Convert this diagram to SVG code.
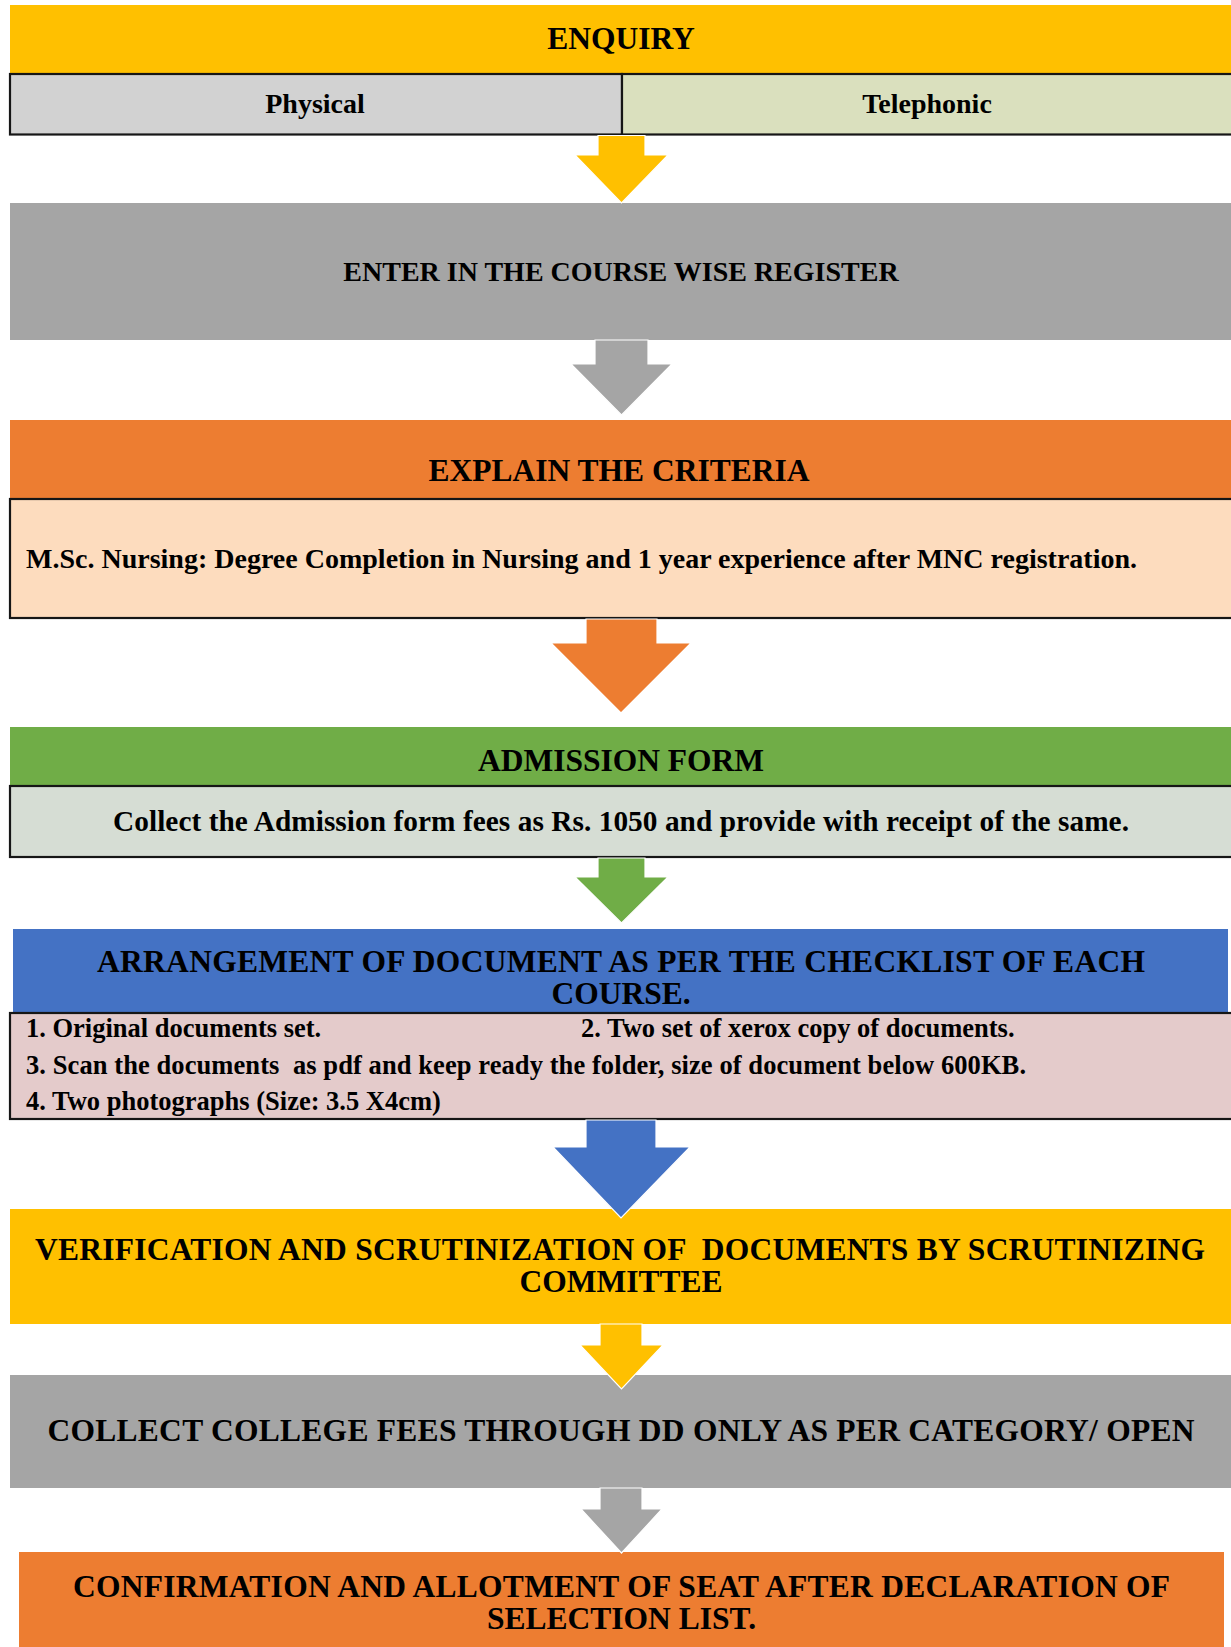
<svg xmlns="http://www.w3.org/2000/svg" width="1231" height="1647" viewBox="0 0 1231 1647">
<style>
text { font-family: "Liberation Serif", "Times New Roman", serif; font-weight: bold; fill: #000; }
.h { font-size: 31.5px; text-anchor: middle; }
.m { font-size: 28px; }
.c { text-anchor: middle; }
.s { font-size: 26.5px; }
.sub { stroke: #161616; stroke-width: 2.2; }
.arr { stroke: #ffffff; stroke-width: 1.2; stroke-linejoin: miter; }
.yellow { fill: #FFC000; }
.gray { fill: #A5A5A5; }
.orange { fill: #ED7D31; }
.green { fill: #70AD47; }
.blue { fill: #4472C4; }
</style>
<rect width="1231" height="1647" fill="#ffffff"/>

<g id="enquiry">
  <rect class="yellow" x="10" y="5" width="1225" height="69"/>
  <text class="h" x="621" y="49">ENQUIRY</text>
</g>
<g id="physical">
  <rect class="sub" x="10" y="74" width="612" height="60.5" fill="#D2D2D2"/>
  <text class="m c" x="315" y="113">Physical</text>
</g>
<g id="telephonic">
  <rect class="sub" x="622" y="74" width="615" height="60.5" fill="#DAE0BE"/>
  <text class="m c" x="927" y="113">Telephonic</text>
</g>

<g id="register">
  <rect class="gray" x="10" y="203" width="1225" height="137"/>
  <text class="m c" x="621" y="281">ENTER IN THE COURSE WISE REGISTER</text>
</g>

<g id="criteria">
  <rect class="orange" x="10" y="420" width="1225" height="79"/>
  <text class="h" x="619" y="481">EXPLAIN THE CRITERIA</text>
  <rect class="sub" x="10" y="499" width="1227" height="119" fill="#FDDCBE"/>
  <text class="m" x="26" y="568" textLength="1111">M.Sc. Nursing: Degree Completion in Nursing and 1 year experience after MNC registration.</text>
</g>

<g id="admission">
  <rect class="green" x="10" y="727" width="1225" height="59"/>
  <text class="h" x="621" y="771">ADMISSION FORM</text>
  <rect class="sub" x="10" y="786" width="1227" height="71" fill="#D6DDD4"/>
  <text class="c" style="font-size:29.3px" x="621" y="831" textLength="1016">Collect the Admission form fees as Rs. 1050 and provide with receipt of the same.</text>
</g>

<g id="documents">
  <rect class="blue" x="13" y="929" width="1215" height="84"/>
  <text class="h" x="621" y="972" textLength="1048">ARRANGEMENT OF DOCUMENT AS PER THE CHECKLIST OF EACH</text>
  <text class="h" x="621" y="1004">COURSE.</text>
  <rect class="sub" x="10" y="1013" width="1227" height="106" fill="#E4CBCB"/>
  <text class="s" x="26" y="1037">1. Original documents set.</text>
  <text class="s" x="581" y="1037">2. Two set of xerox copy of documents.</text>
  <text class="s" x="26" y="1074" textLength="1000" xml:space="preserve">3. Scan the documents  as pdf and keep ready the folder, size of document below 600KB.</text>
  <text class="s" x="26" y="1110">4. Two photographs (Size: 3.5 X4cm)</text>
</g>

<g id="verification">
  <rect class="yellow" x="10" y="1209" width="1225" height="115"/>
  <text class="h" x="620" y="1260" textLength="1170" xml:space="preserve">VERIFICATION AND SCRUTINIZATION OF  DOCUMENTS BY SCRUTINIZING</text>
  <text class="h" x="621" y="1292">COMMITTEE</text>
</g>

<g id="fees">
  <rect class="gray" x="10" y="1375" width="1225" height="113"/>
  <text class="h" x="621" y="1441" textLength="1147">COLLECT COLLEGE FEES THROUGH DD ONLY AS PER CATEGORY/ OPEN</text>
</g>

<g id="confirmation">
  <rect class="orange" x="19" y="1552" width="1205" height="100"/>
  <text class="h" x="621.5" y="1597" textLength="1097">CONFIRMATION AND ALLOTMENT OF SEAT AFTER DECLARATION OF</text>
  <text class="h" x="621.5" y="1629">SELECTION LIST.</text>
</g>

<g id="connectors">
  <polygon class="arr yellow" points="598,135.5 645,135.5 645,155 668,155 621.5,203 575,155 598,155"/>
  <polygon class="arr gray" points="595,340 648,340 648,364 672,364 621.5,415 571,364 595,364"/>
  <polygon class="arr orange" points="586,619 657,619 657,643 691,643 621,713 551,643 586,643"/>
  <polygon class="arr green" points="598,858 645,858 645,877 668,877 621.5,923 575,877 598,877"/>
  <polygon class="arr blue" points="586,1120 656,1120 656,1147 690,1147 621,1218 553,1147 586,1147"/>
  <polygon class="arr yellow" points="600,1324 642,1324 642,1345 663,1345 621.5,1389 580,1345 600,1345"/>
  <polygon class="arr gray" points="600,1488 642,1488 642,1509 662,1509 621.5,1553 581,1509 600,1509"/>
</g>
</svg>
